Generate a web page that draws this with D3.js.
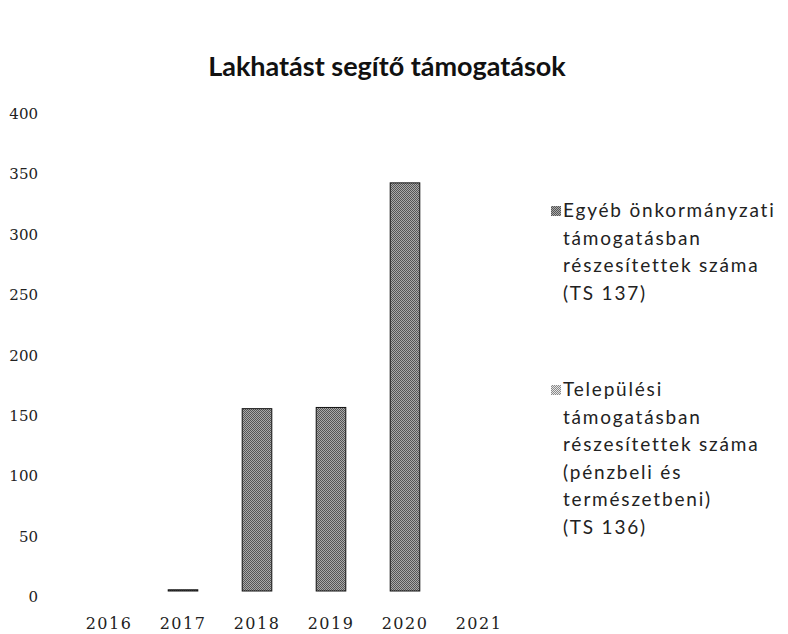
<!DOCTYPE html>
<html>
<head>
<meta charset="utf-8">
<script src="https://cdn.jsdelivr.net/npm/d3@7"></script>
<style>
  body { margin: 0; background: #fff; }
  svg { display: block; }
</style>
</head>
<body>
<div id="chart"></div>
<script>
const years = ['2016', '2017', '2018', '2019', '2020', '2021'];
const ts137 = [0, 1, 151, 152, 338, 0];
const ts136 = [0, 0, 0, 0, 0, 0];
const yTicks = [0, 50, 100, 150, 200, 250, 300, 350, 400];
const legendLabels = [
    ['Egyéb önkormányzati', 'támogatásban', 'részesítettek száma', '(TS 137)'],
    ['Települési', 'támogatásban', 'részesítettek száma', '(pénzbeli és', 'természetbeni)', '(TS 136)']
];

const width = 788, height = 634;
const svg = d3.select('#chart').append('svg')
    .attr('width', width).attr('height', height);

// hatch-like fills, a dark one for TS 137 and a lighter one for TS 136
const defs = svg.append('defs');
const makePattern = (id, a, b) => {
    const p = defs.append('pattern').attr('id', id)
        .attr('width', 2).attr('height', 2).attr('patternUnits', 'userSpaceOnUse');
    p.append('rect').attr('width', 2).attr('height', 2).attr('fill', b);
    p.append('rect').attr('width', 1).attr('height', 1).attr('fill', a);
    p.append('rect').attr('x', 1).attr('y', 1).attr('width', 1).attr('height', 1).attr('fill', a);
};
makePattern('dark', '#555', '#aaa');
makePattern('light', '#8a8a8a', '#e6e6e6');

const x = d3.scaleBand().domain(years).range([72, 516]).paddingInner(0.6).paddingOuter(0.3);
const y = d3.scaleLinear().domain([0, 400]).range([591, 108]);

svg.append('text')
    .attr('x', 387).attr('y', 76)
    .attr('text-anchor', 'middle')
    .style('font-family', 'Lato, sans-serif')
    .style('font-weight', 'bold')
    .style('font-size', '27px')
    .attr('fill', '#111')
    .text('Lakhatást segítő támogatások');

// y axis labels, no line
svg.append('g')
    .selectAll('text')
    .data(yTicks)
    .join('text')
    .attr('x', 38)
    .attr('y', d => y(d) + 11)
    .attr('text-anchor', 'end')
    .style('font-family', '"DejaVu Serif", serif')
    .style('font-size', '15px')
    .attr('fill', '#222')
    .text(d => d);

// x axis labels
svg.append('g')
    .selectAll('text')
    .data(years)
    .join('text')
    .attr('x', d => x(d) + x.bandwidth() / 2)
    .attr('y', 629)
    .attr('text-anchor', 'middle')
    .style('font-family', '"DejaVu Serif", serif')
    .style('font-size', '16px')
    .style('letter-spacing', '1.5px')
    .attr('fill', '#222')
    .text(d => d);

const stackData = years.map((yr, i) => ({year: yr, ts137: ts137[i], ts136: ts136[i]}));
const series = d3.stack().keys(['ts137', 'ts136'])(stackData);
const fills = {ts137: 'url(#dark)', ts136: 'url(#light)'};

svg.append('g')
    .selectAll('g')
    .data(series)
    .join('g')
    .attr('fill', s => fills[s.key])
    .selectAll('rect')
    .data(s => s.filter(d => d[1] - d[0] > 0))
    .join('rect')
    .attr('x', d => x(d.data.year))
    .attr('y', d => y(d[1]))
    .attr('width', x.bandwidth())
    .attr('height', d => y(d[0]) - y(d[1]))
    .attr('stroke', '#111')
    .attr('stroke-width', 1);

// legend
const legendY = [217, 396];
const legendG = svg.append('g');
legendLabels.forEach((lines, i) => {
    const g = legendG.append('g').attr('transform', `translate(551, ${legendY[i]})`);
    g.append('rect')
        .attr('x', 0).attr('y', -11)
        .attr('width', 10).attr('height', 10)
        .attr('fill', i === 0 ? 'url(#dark)' : 'url(#light)');
    g.selectAll('text')
        .data(lines)
        .join('text')
        .attr('x', 12)
        .attr('y', (d, j) => j * 27.5)
        .style('font-family', 'Lato, sans-serif')
        .style('font-size', '19px')
        .style('letter-spacing', '1.8px')
        .attr('fill', '#222')
        .text(d => d);
});
</script>
</body>
</html>
